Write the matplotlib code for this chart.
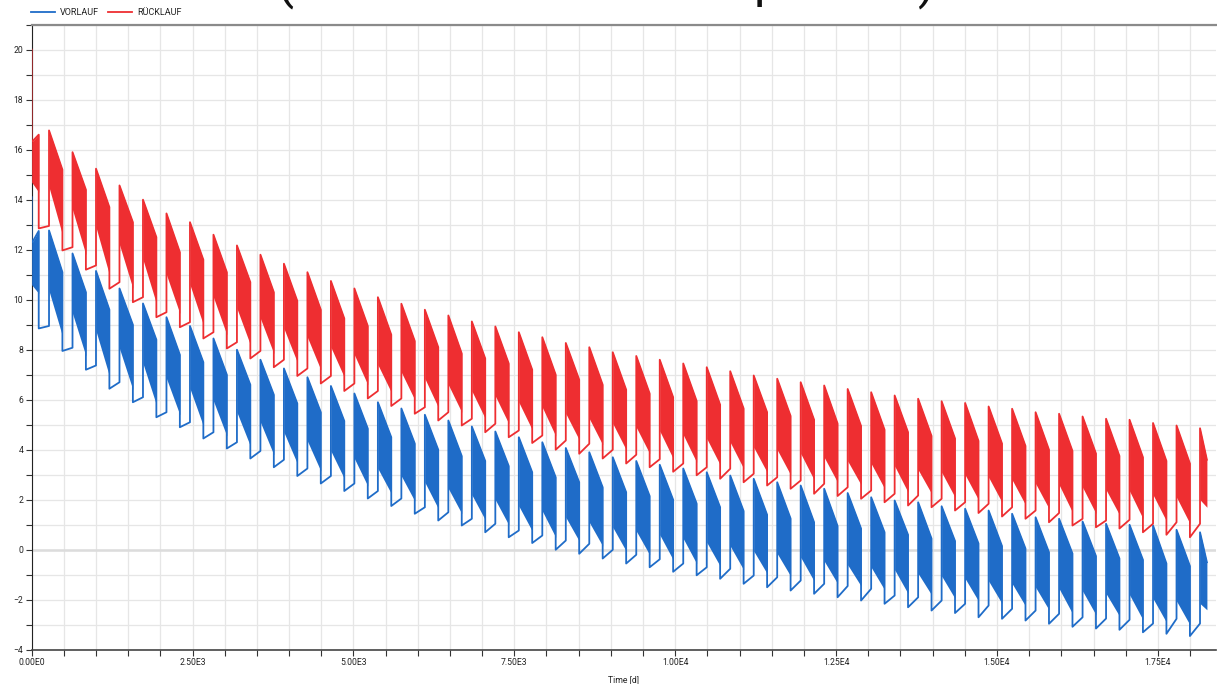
import numpy as np
import matplotlib
matplotlib.use("Agg")
from matplotlib import pyplot as plt

plt.rcParams['font.family'] = ['Roboto', 'DejaVu Sans']

# simulation calendar (days)
days_per_year = 365
first_season_end = 110      # heating at simulation start stops here
season_start = 270          # first regular heating season starts here
heating_days = 208
end_time = 18262

# initial values at t = 0
red_init = 20.0
blue_init = 14.1

# RÜCKLAUF (red), one value per heating season (51 seasons)
red_peak = [16.3, 16.77, 15.9, 15.24, 14.57, 14.0, 13.45, 13.1, 12.6, 12.17, 11.8, 11.44, 11.1,
            10.75, 10.45, 10.1, 9.84, 9.6, 9.37, 9.13, 8.93, 8.7, 8.5, 8.27, 8.1, 7.9, 7.75, 7.6,
            7.45, 7.3, 7.14, 6.97, 6.84, 6.7, 6.57, 6.43, 6.3, 6.17, 6.04, 5.94, 5.87, 5.73, 5.64,
            5.5, 5.44, 5.33, 5.24, 5.2, 5.07, 4.97, 4.86]
red_top_end = [16.6, 15.2, 14.4, 13.7, 13.1, 12.5, 11.9, 11.6, 11.1, 10.7, 10.3, 9.95, 9.6, 9.25,
               8.95, 8.6, 8.35, 8.1, 7.85, 7.65, 7.45, 7.2, 7.0, 6.8, 6.6, 6.4, 6.25, 6.1, 5.95, 5.8,
               5.65, 5.5, 5.35, 5.2, 5.05, 4.95, 4.8, 4.7, 4.55, 4.45, 4.35, 4.25, 4.15, 4.0, 3.95,
               3.85, 3.75, 3.7, 3.55, 3.45, 3.6]
red_low_start = [14.7, 14.5, 13.6, 12.9, 12.2, 11.6, 11.0, 10.6, 10.1, 9.65, 9.25, 8.85, 8.5, 8.1,
                 7.8, 7.4, 7.1, 6.85, 6.6, 6.35, 6.15, 5.9, 5.7, 5.45, 5.25, 5.05, 4.9, 4.75, 4.6,
                 4.45, 4.3, 4.1, 4.0, 3.85, 3.7, 3.55, 3.45, 3.35, 3.2, 3.1, 3.0, 2.9, 2.8, 2.65,
                 2.6, 2.5, 2.4, 2.35, 2.2, 2.1, 2.0]
red_low_end = [14.3, 12.6, 11.8, 11.0, 10.45, 9.85, 9.45, 9.0, 8.6, 8.2, 7.85, 7.5, 7.2, 6.9, 6.6,
               6.3, 6.0, 5.7, 5.5, 5.25, 5.05, 4.8, 4.55, 4.4, 4.2, 4.0, 3.85, 3.65, 3.5, 3.4, 3.25,
               3.1, 3.0, 2.8, 2.7, 2.6, 2.45, 2.3, 2.25, 2.1, 2.0, 1.9, 1.8, 1.65, 1.5, 1.45, 1.4,
               1.25, 1.15, 1.05, 1.7]
# summer (no heating) line: start and end value, 50 summers
red_trough = [12.85, 11.97, 11.2, 10.44, 9.9, 9.3, 8.9, 8.45, 8.05, 7.65, 7.3, 6.95, 6.65, 6.35,
              6.05, 5.75, 5.44, 5.17, 4.97, 4.7, 4.5, 4.27, 4.0, 3.84, 3.65, 3.45, 3.3, 3.12, 2.98,
              2.84, 2.7, 2.57, 2.44, 2.24, 2.15, 2.04, 1.9, 1.77, 1.7, 1.57, 1.47, 1.33, 1.24, 1.1,
              0.97, 0.9, 0.85, 0.7, 0.6, 0.5]
red_flat_end = [12.95, 12.1, 11.37, 10.7, 10.1, 9.5, 9.1, 8.7, 8.3, 7.95, 7.6, 7.25, 6.95, 6.65,
                6.35, 6.05, 5.7, 5.5, 5.24, 5.04, 4.77, 4.57, 4.37, 4.24, 4.0, 3.8, 3.62, 3.45, 3.3,
                3.24, 3.04, 2.9, 2.77, 2.64, 2.5, 2.37, 2.24, 2.17, 2.04, 1.9, 1.84, 1.7, 1.57, 1.47,
                1.24, 1.17, 1.2, 1.04, 1.1, 1.04]

# VORLAUF (blue)
blue_peak = [12.25, 12.77, 11.85, 11.15, 10.45, 9.85, 9.3, 8.95, 8.45, 8.0, 7.6, 7.25, 6.9, 6.55,
             6.25, 5.9, 5.65, 5.4, 5.17, 4.93, 4.73, 4.5, 4.3, 4.07, 3.9, 3.7, 3.55, 3.4, 3.25, 3.1,
             2.97, 2.84, 2.7, 2.57, 2.44, 2.27, 2.1, 1.97, 1.9, 1.74, 1.64, 1.57, 1.44, 1.3, 1.24,
             1.13, 1.04, 1.0, 0.97, 0.8, 0.7]
blue_top_end = [12.75, 11.1, 10.3, 9.6, 9.0, 8.4, 7.8, 7.5, 7.0, 6.6, 6.2, 5.85, 5.5, 5.15, 4.85,
                4.5, 4.25, 4.0, 3.75, 3.55, 3.35, 3.1, 2.9, 2.7, 2.5, 2.3, 2.15, 2.0, 1.85, 1.7,
                1.55, 1.4, 1.25, 1.1, 0.95, 0.85, 0.7, 0.6, 0.45, 0.35, 0.25, 0.15, 0.05, -0.1,
                -0.15, -0.25, -0.35, -0.4, -0.55, -0.65, -0.5]
blue_low_start = [10.6, 10.35, 9.45, 8.75, 8.05, 7.45, 6.85, 6.45, 5.95, 5.5, 5.1, 4.7, 4.35, 3.95,
                  3.65, 3.25, 2.95, 2.7, 2.45, 2.2, 2.0, 1.75, 1.55, 1.3, 1.1, 0.9, 0.75, 0.6, 0.45,
                  0.3, 0.15, -0.05, -0.15, -0.3, -0.45, -0.6, -0.7, -0.8, -0.95, -1.05, -1.15,
                  -1.25, -1.35, -1.5, -1.55, -1.65, -1.75, -1.8, -1.95, -2.05, -2.15]
blue_low_end = [10.25, 8.55, 7.75, 6.95, 6.4, 5.8, 5.4, 4.95, 4.55, 4.15, 3.8, 3.45, 3.15, 2.85,
                2.55, 2.25, 1.95, 1.65, 1.45, 1.2, 1.0, 0.75, 0.5, 0.35, 0.15, -0.05, -0.2, -0.4,
                -0.55, -0.65, -0.8, -0.95, -1.05, -1.25, -1.35, -1.45, -1.6, -1.75, -1.8, -1.95,
                -2.05, -2.15, -2.25, -2.4, -2.55, -2.6, -2.65, -2.8, -2.9, -3.0, -2.4]
blue_trough = [8.85, 7.95, 7.2, 6.44, 5.9, 5.3, 4.9, 4.45, 4.05, 3.65, 3.3, 2.95, 2.65, 2.35, 2.05,
               1.75, 1.44, 1.17, 0.97, 0.7, 0.5, 0.27, 0.0, -0.16, -0.35, -0.55, -0.7, -0.88,
               -1.02, -1.16, -1.36, -1.5, -1.63, -1.76, -1.9, -2.03, -2.16, -2.3, -2.43, -2.53,
               -2.7, -2.76, -2.83, -2.96, -3.08, -3.15, -3.2, -3.3, -3.36, -3.45]
blue_flat_end = [8.95, 8.08, 7.37, 6.7, 6.1, 5.5, 5.1, 4.7, 4.3, 3.95, 3.6, 3.25, 2.95, 2.65, 2.35,
                 2.05, 1.7, 1.5, 1.24, 1.04, 0.77, 0.57, 0.37, 0.24, 0.0, -0.2, -0.38, -0.55, -0.7,
                 -0.76, -1.03, -1.1, -1.23, -1.36, -1.45, -1.56, -1.83, -1.9, -2.03, -2.16, -2.23,
                 -2.36, -2.43, -2.56, -2.7, -2.75, -2.8, -2.95, -2.76, -2.95]

x_tick_values = [0, 2500, 5000, 7500, 10000, 12500, 15000, 17500]
x_tick_labels = ["0.00E0", "2.50E3", "5.00E3", "7.50E3", "1.00E4", "1.25E4", "1.50E4", "1.75E4"]

# start and end of every heating season
n_seasons = len(red_peak)
starts = [0] + [season_start + days_per_year * k for k in range(n_seasons - 1)]
ends = [first_season_end] + [min(s + heating_days, end_time) for s in starts[1:]]

fig = plt.figure(figsize=(12.17, 6.84), dpi=100)
ax = fig.add_axes([0.026, 0.050, 0.973, 0.914])


def draw_series(color, label, init, peak, top_end, low_start, low_end, trough, flat_end):
    xs, ys = [0], [init]
    for k in range(n_seasons):
        s, e = starts[k], ends[k]
        ax.fill_between([s, e], [low_start[k], low_end[k]], [peak[k], top_end[k]],
                        color=color, lw=0, zorder=3)
        xs += [s, e]
        ys += [peak[k], top_end[k]]
        if k < len(trough):
            xs += [e, starts[k + 1]]
            ys += [trough[k], flat_end[k]]
    line, = ax.plot(xs, ys, color=color, lw=1.3, label=label, zorder=3)
    return line


blue_color = '#1f6cc8'
red_color = '#ee2e31'
l1 = draw_series(blue_color, 'VORLAUF', blue_init, blue_peak, blue_top_end, blue_low_start,
                 blue_low_end, blue_trough, blue_flat_end)
l2 = draw_series(red_color, 'RÜCKLAUF', red_init, red_peak, red_top_end, red_low_start,
                 red_low_end, red_trough, red_flat_end)

ax.set_xlim(0, 18400)
ax.set_ylim(-4, 21)

ax.set_xticks(x_tick_values)
ax.set_xticklabels(x_tick_labels)
ax.set_xticks(np.arange(0, 18401, 500), minor=True)
ax.set_yticks(np.arange(-4, 21, 2))
ax.set_yticks(np.arange(-4, 22, 1), minor=True)
ax.grid(True, which='both', color='#e6e6e6', lw=0.9, zorder=0)
ax.axhline(0, color='#dcdcdc', lw=1.8, zorder=1)
ax.set_axisbelow(True)

ax.tick_params(which='both', direction='out', length=4, width=0.8, color='#333333',
               labelsize=6.2, labelcolor='#222222', pad=2)
ax.set_xlabel('Time [d]', fontsize=6.2, color='#222222', labelpad=6)

ax.spines['right'].set_visible(False)
ax.spines['left'].set_color('#222222')
ax.spines['bottom'].set_color('#444444')
ax.spines['bottom'].set_linewidth(1.2)
ax.spines['top'].set_color('#8a8a8a')
ax.spines['top'].set_linewidth(1.6)

ax.legend(handles=[l1, l2], loc='center left', bbox_to_anchor=(0.0255, 0.982),
          bbox_transform=fig.transFigure, ncol=2, frameon=False, fontsize=6.5,
          handlelength=2.7, handletextpad=0.55, columnspacing=0.9, borderpad=0,
          borderaxespad=0, labelcolor='#222222')

# large title cut off at the top edge, only the descenders of the glyphs remain
for gx, glyph in [(285, '('), (768, 'p'), (927, ')')]:
    fig.text(gx / 1217, 1 + 3 / 684, glyph, fontsize=36, ha='center', va='baseline',
             color='#111111')

plt.savefig('out.png', dpi=100)
